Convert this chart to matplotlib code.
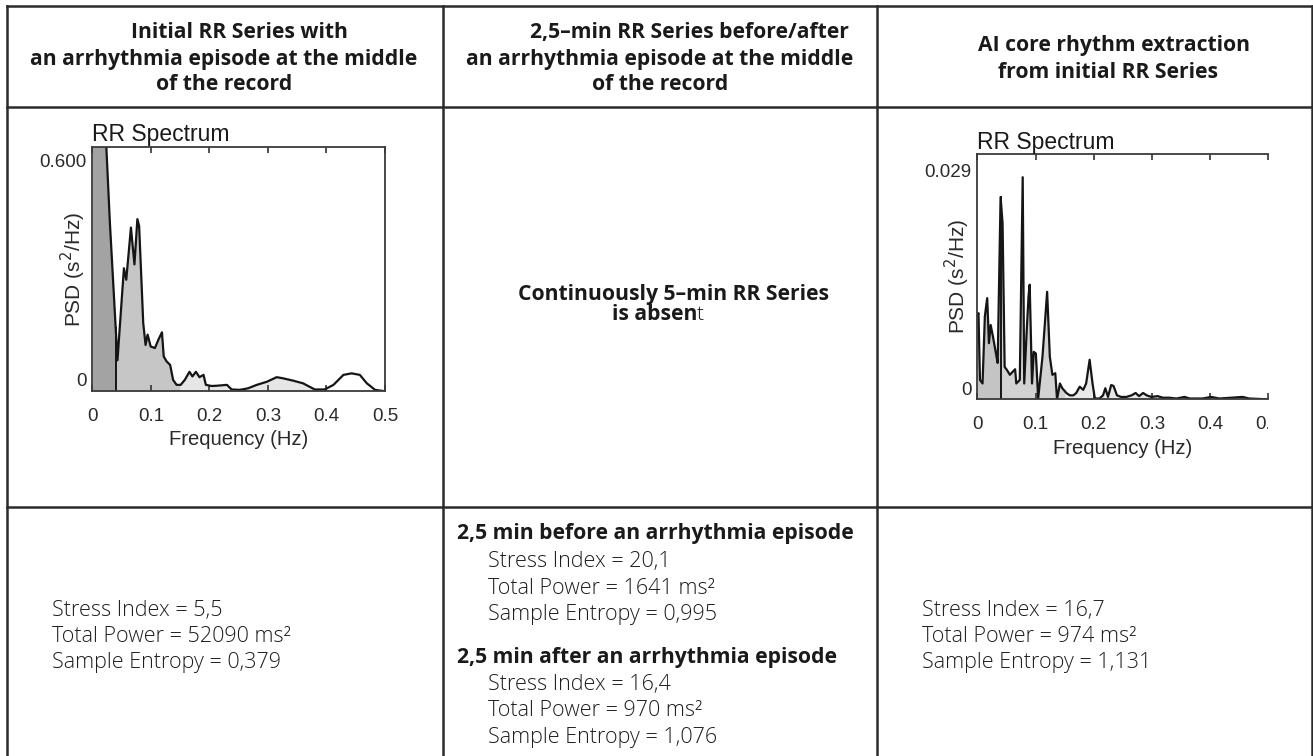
import numpy as np
import matplotlib
matplotlib.use("Agg")
import matplotlib.pyplot as plt
import matplotlib.transforms as mtransforms
from matplotlib.lines import Line2D

# spectrum of the initial RR series (left column)
freq_init = [0.0, 0.012, 0.022, 0.030, 0.043, 0.054, 0.058, 0.066, 0.072, 0.077,
             0.080, 0.087, 0.091, 0.0945, 0.0997, 0.107, 0.113, 0.119, 0.122, 0.127,
             0.133, 0.138, 0.144, 0.151, 0.158, 0.166, 0.171, 0.177, 0.183, 0.190,
             0.194, 0.204, 0.215, 0.230, 0.238, 0.252, 0.266, 0.281, 0.298, 0.315,
             0.326, 0.343, 0.360, 0.380, 0.397, 0.412, 0.429, 0.443, 0.457, 0.469,
             0.483, 0.497]
psd_init = [1.10, 0.95, 0.70, 0.44, 0.08, 0.32, 0.29, 0.426, 0.33, 0.448,
            0.43, 0.177, 0.12, 0.147, 0.116, 0.112, 0.134, 0.153, 0.09, 0.077,
            0.068, 0.029, 0.016, 0.016, 0.029, 0.05, 0.038, 0.05, 0.036, 0.042,
            0.016, 0.013, 0.014, 0.016, 0.004, 0.003, 0.007, 0.016, 0.024, 0.036,
            0.033, 0.027, 0.02, 0.004, 0.004, 0.016, 0.042, 0.046, 0.042, 0.02,
            0.003, 0.0]

# spectrum after AI core rhythm extraction (right column)
freq_core = [0.0, 0.002, 0.0046, 0.009, 0.013, 0.017, 0.020, 0.023, 0.027, 0.033,
             0.035, 0.040, 0.0434, 0.047, 0.051, 0.056, 0.061, 0.065, 0.067, 0.073,
             0.078, 0.0806, 0.085, 0.088, 0.090, 0.094, 0.097, 0.1006, 0.1046, 0.112,
             0.120, 0.1246, 0.129, 0.134, 0.137, 0.142, 0.146, 0.153, 0.159, 0.165,
             0.170, 0.176, 0.182, 0.187, 0.193, 0.198, 0.202, 0.210, 0.216, 0.220,
             0.2246, 0.230, 0.234, 0.240, 0.247, 0.256, 0.265, 0.272, 0.278, 0.285,
             0.291, 0.299, 0.310, 0.319, 0.330, 0.342, 0.356, 0.365, 0.387, 0.402,
             0.416, 0.456, 0.467, 0.499]
psd_core = [0.0105, 0.0109, 0.00245, 0.002, 0.0105, 0.0128, 0.0071, 0.0094, 0.0079, 0.0054,
            0.0046, 0.0256, 0.0223, 0.0041, 0.0037, 0.0031, 0.0035, 0.0038, 0.002, 0.00245,
            0.0281, 0.002, 0.0088, 0.013, 0.0145, 0.002, 0.006, 0.0058, 0.0001, 0.0054,
            0.0136, 0.0054, 0.0031, 0.0033, 0.0, 0.002, 0.0014, 0.0008, 0.0005, 0.0005,
            0.0008, 0.0016, 0.0012, 0.002, 0.005, 0.002, 0.0001, 0.0001, 0.0005, 0.0014,
            0.0003, 0.0018, 0.0017, 0.0005, 0.0003, 0.0003, 0.0005, 0.0008, 0.0004, 0.0008,
            0.0005, 0.0003, 0.0004, 0.0002, 0.0002, 0.0001, 0.0003, 0.0001, 0.0001, 0.0003,
            0.0001, 0.0003, 0.0001, 0.0]

bands = [(0.0, 0.04), (0.04, 0.15), (0.15, 0.40)]
xticks = [0, 0.1, 0.2, 0.3, 0.4, 0.5]
xticklabels = ["0", "0.1", "0.2", "0.3", "0.4", "0.5"]

headers = [
    ["Initial RR Series with", "an arrhythmia episode at the middle", "of the record"],
    ["2,5\u2013min RR Series before/after", "an arrhythmia episode at the middle", "of the record"],
    ["AI core rhythm extraction", "from initial RR Series"],
]
stats_init = ["Stress Index = 5,5", "Total Power = 52090 ms\u00b2", "Sample Entropy = 0,379"]
stats_before = ["Stress Index = 20,1", "Total Power = 1641 ms\u00b2", "Sample Entropy = 0,995"]
stats_after = ["Stress Index = 16,4", "Total Power = 970 ms\u00b2", "Sample Entropy = 1,076"]
stats_core = ["Stress Index = 16,7", "Total Power = 974 ms\u00b2", "Sample Entropy = 1,131"]

W, H = 1313, 756
fig = plt.figure(figsize=(W / 100, H / 100), dpi=100)
fig.patch.set_facecolor("white")

TXT = ["Open Sans", "DejaVu Sans"]
PLT = ["Liberation Sans", "DejaVu Sans"]
BOLD = 15.2
BODY = 15.5


def fx(x):
    return x / W


def fy(y):
    return 1 - y / H


def axes_px(l, t, r, b):
    return fig.add_axes([fx(l), fy(b), (r - l) / W, (b - t) / H])


# table grid
grid_kw = dict(color="#2b2b2b", lw=1.8, transform=fig.transFigure)
for y in [6, 106.7, 507.3]:
    fig.add_artist(Line2D([fx(6.7), fx(1311.7)], [fy(y), fy(y)], **grid_kw))
for x in [6.7, 442.7, 876.7, 1311.7]:
    fig.add_artist(Line2D([fx(x), fx(x)], [fy(6), fy(H + 2)], **grid_kw))

# header text
head_x = [[239, 224, 224], [689, 660, 660], [1114, 1108]]
head_y = [[38.3, 64.5, 90.5], [38.3, 64.5, 90.5], [51.5, 77.5]]
for col in range(3):
    for i, line in enumerate(headers[col]):
        fig.text(fx(head_x[col][i]), fy(head_y[col][i]), line, ha="center", va="baseline",
                 fontsize=BOLD, fontweight="bold", family=TXT, color="#1a1a1a")

# middle plot-row cell
fig.text(fx(673), fy(300), "Continuously 5\u2013min RR Series", ha="center", va="baseline",
         fontsize=BOLD, fontweight="bold", family=TXT, color="#1a1a1a")
renderer = fig.canvas.get_renderer()
t_a = fig.text(0, fy(320), "is absen", ha="left", va="baseline",
               fontsize=BOLD, fontweight="bold", family=TXT, color="#1a1a1a")
t_b = fig.text(0, fy(320), "t", ha="left", va="baseline", fontsize=BOLD, fontweight="light",
               family=TXT, color="#1a1a1a")
w_a = t_a.get_window_extent(renderer).width
w_b = t_b.get_window_extent(renderer).width
x0 = 658 - (w_a + w_b) / 2
t_a.set_x(fx(x0))
t_b.set_x(fx(x0 + w_a))

# bottom row text
body_kw = dict(ha="left", va="baseline", fontsize=BODY, fontweight="light", family=TXT, color="#1e1e1e")
for i, s in enumerate(stats_init):
    fig.text(fx(51.7), fy(615.7 + 26.3 * i), s, **body_kw)
for i, s in enumerate(stats_core):
    fig.text(fx(922.3), fy(615.7 + 26.3 * i), s, **body_kw)
fig.text(fx(456.7), fy(539.3), "2,5 min before an arrhythmia episode", ha="left", va="baseline",
         fontsize=BOLD, fontweight="bold", family=TXT, color="#1a1a1a")
for i, s in enumerate(stats_before):
    fig.text(fx(487.7), fy(567.3 + 26.3 * i), s, **body_kw)
fig.text(fx(456.7), fy(663.3), "2,5 min after an arrhythmia episode", ha="left", va="baseline",
         fontsize=BOLD, fontweight="bold", family=TXT, color="#1a1a1a")
for i, s in enumerate(stats_after):
    fig.text(fx(487.7), fy(690 + 26.3 * i), s, **body_kw)


def spectrum(ax, f, p, ymax, ytop, ytop_label, colors, ylab_x, clip_right=None):
    f = np.asarray(f)
    p = np.asarray(p)
    for (lo, hi), c in zip(bands, colors):
        inside = (f > lo) & (f < hi)
        xs = np.concatenate(([lo], f[inside], [hi]))
        ax.fill_between(xs, 0, np.interp(xs, f, p), color=c, lw=0)
    ax.plot(f, p, color="#151515", lw=1.6)
    ax.plot([0.04, 0.04], [0, np.interp(0.04, f, p)], color="#151515", lw=1.4)
    ax.set_xlim(0, 0.5)
    ax.set_ylim(0, ymax)
    ax.set_xticks(xticks, xticklabels, fontsize=13.5, family=PLT, color="#2a2a2a")
    ax.set_yticks([0, ytop], ["0", ytop_label], fontsize=13.5, family=PLT, color="#2a2a2a")
    ax.tick_params(axis="x", direction="in", top=True, length=4, width=1.2, pad=12, color="#333333")
    ax.tick_params(axis="y", length=0, pad=4)
    ax.set_xlabel("Frequency (Hz)", fontsize=14.6, family=PLT, color="#2a2a2a", labelpad=4)
    ax.set_ylabel("PSD (s$^{2}$/Hz)", fontsize=15, family=PLT, color="#2a2a2a")
    ax.yaxis.set_label_coords(ylab_x, 0.5)
    ax.set_title("RR Spectrum", loc="left", fontsize=16.5, family=PLT, color="#1a1a1a", pad=4)
    for s in ax.spines.values():
        s.set_color("#3a3a3a")
        s.set_linewidth(1.3)
    # zero label sits a little above the baseline in the source figure
    zero = ax.get_yticklabels()[0]
    zero.set_transform(zero.get_transform() + mtransforms.ScaledTranslation(0, 0.11, fig.dpi_scale_trans))
    if clip_right is not None:
        ax.spines["right"].set_visible(False)
        box = mtransforms.TransformedBbox(mtransforms.Bbox.from_extents(0, 0, fx(clip_right), 1),
                                          fig.transFigure)
        for lbl in ax.get_xticklabels():
            lbl.set_clip_box(box)
            lbl.set_clip_on(True)


ax1 = axes_px(92.3, 147, 385, 391)
spectrum(ax1, freq_init, psd_init, 0.636, 0.6, "0.600", ["#a3a3a3", "#c6c6c6", "#e6e6e6"], -0.015)

ax2 = axes_px(977.3, 154.3, 1268.3, 399.3)
spectrum(ax2, freq_core, psd_core, 0.031, 0.029, "0.029", ["#c4c4c4", "#d2d2d2", "#e8e8e8"], -0.019,
         clip_right=1268.3)

fig.savefig("out.png", dpi=100, facecolor="white")
